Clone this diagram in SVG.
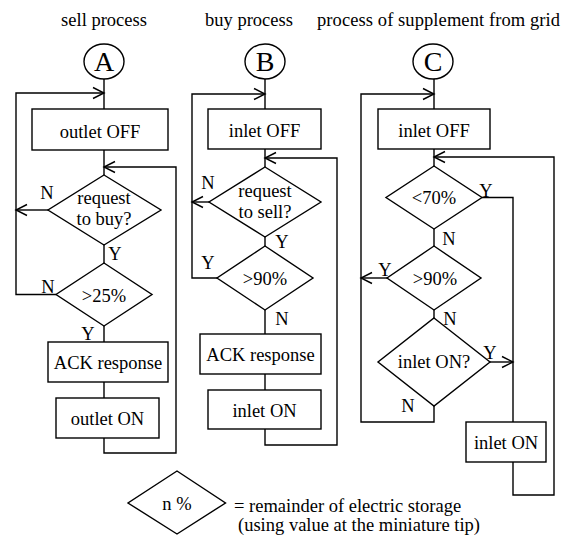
<svg xmlns="http://www.w3.org/2000/svg" width="565" height="536" viewBox="0 0 565 536">
<style>
.s{fill:#fff;stroke:#000;stroke-width:1.4}
.c{fill:none;stroke:#000;stroke-width:1.4}
text{font-family:"Liberation Serif","Times New Roman",serif;font-size:18.5px;fill:#000}
.m{text-anchor:middle}
.big{font-size:28px;text-anchor:middle}
</style>
<defs>
<marker id="ar" viewBox="-12 -7 14 14" refX="0" refY="0" markerWidth="14" markerHeight="14" markerUnits="userSpaceOnUse" orient="auto">
<path d="M-11,-5.5 L0,0 L-11,5.5" fill="none" stroke="#000" stroke-width="1.4"/>
</marker>
</defs>
<rect width="565" height="536" fill="#fff"/>

<g id="titles">
<text class="m" x="104" y="26">sell process</text>
<text class="m" x="249" y="26">buy process</text>
<text x="317" y="26" textLength="243">process of supplement from grid</text>
</g>

<g id="connectors">
<!-- column A -->
<path class="c" d="M104,79 V109 M104,150 V175 M104,245 V263 M104,326 V342 M104,382 V398"/>
<path class="c" d="M104,438 V453 H176 V167 H104" marker-end="url(#ar)"/>
<path class="c" d="M48,210 H16" marker-end="url(#ar)"/>
<path class="c" d="M56,294.5 H16 V93 H104" marker-end="url(#ar)"/>
<!-- column B -->
<path class="c" d="M265,79 V109 M265,149 V167 M265,237 V246 M265,310 V334 M265,374 V390"/>
<path class="c" d="M265,429 V445 H337 V158 H265" marker-end="url(#ar)"/>
<path class="c" d="M209,202 H192" marker-end="url(#ar)"/>
<path class="c" d="M217,278 H192 V94 H265" marker-end="url(#ar)"/>
<!-- column C -->
<path class="c" d="M434,79 V109 M434,149 V166 M434,229 V246 M434,310 V318"/>
<path class="c" d="M434,406 V422 H361 V94 H434" marker-end="url(#ar)"/>
<path class="c" d="M387,278 H361" marker-end="url(#ar)"/>
<path class="c" d="M482,197.5 H513 V422"/>
<path class="c" d="M490,362 H513" marker-end="url(#ar)"/>
<path class="c" d="M513,462 V495 H554 V157 H434" marker-end="url(#ar)"/>
</g>

<g id="labels">
<text class="m" x="47" y="199">N</text>
<text class="m" x="115" y="260">Y</text>
<text class="m" x="48" y="293">N</text>
<text class="m" x="88" y="340">Y</text>
<text class="m" x="208" y="189">N</text>
<text class="m" x="282" y="248">Y</text>
<text class="m" x="208" y="269">Y</text>
<text class="m" x="282" y="325">N</text>
<text class="m" x="486" y="197">Y</text>
<text class="m" x="449" y="245">N</text>
<text class="m" x="385" y="276">Y</text>
<text class="m" x="450" y="325">N</text>
<text class="m" x="490" y="359">Y</text>
<text class="m" x="408" y="412">N</text>
</g>

<g id="startA"><ellipse class="s" cx="104" cy="61.5" rx="20" ry="17.5"/><text class="big" x="104" y="70.5">A</text></g>
<g id="outletOffA"><rect class="s" x="32" y="109" width="136" height="41"/><text class="m" x="100" y="138">outlet OFF</text></g>
<g id="reqBuy"><polygon class="s" points="104,175 161,210 104,245 48,210"/><text class="m" x="104" y="204">request</text><text class="m" x="104" y="225">to buy?</text></g>
<g id="gt25"><polygon class="s" points="104,263 152,294.5 104,326 56,294.5"/><text class="m" x="104" y="302">&gt;25%</text></g>
<g id="ackA"><rect class="s" x="48" y="342" width="120" height="40"/><text class="m" x="108" y="369">ACK response</text></g>
<g id="outletOnA"><rect class="s" x="56" y="398" width="103" height="40"/><text class="m" x="107.5" y="425">outlet ON</text></g>

<g id="startB"><ellipse class="s" cx="265" cy="61.5" rx="20" ry="17.5"/><text class="big" x="265" y="70.5">B</text></g>
<g id="inletOffB"><rect class="s" x="208" y="109" width="113" height="40"/><text class="m" x="264.5" y="137">inlet OFF</text></g>
<g id="reqSell"><polygon class="s" points="265,167 321,202 265,237 209,202"/><text class="m" x="265" y="197">request</text><text class="m" x="265" y="218">to sell?</text></g>
<g id="gt90B"><polygon class="s" points="265,246 313,278 265,310 217,278"/><text class="m" x="265" y="285">&gt;90%</text></g>
<g id="ackB"><rect class="s" x="200" y="334" width="121" height="40"/><text class="m" x="260.5" y="361">ACK response</text></g>
<g id="inletOnB"><rect class="s" x="208" y="390" width="113" height="39"/><text class="m" x="264.5" y="417">inlet ON</text></g>

<g id="startC"><ellipse class="s" cx="433" cy="61.5" rx="20" ry="17.5"/><text class="big" x="433" y="70.5">C</text></g>
<g id="inletOffC"><rect class="s" x="378" y="109" width="112" height="40"/><text class="m" x="434" y="137">inlet OFF</text></g>
<g id="lt70"><polygon class="s" points="434,166 482,197.5 434,229 386,197.5"/><text class="m" x="434" y="204">&lt;70%</text></g>
<g id="gt90C"><polygon class="s" points="434,246 481,278 434,310 387,278"/><text class="m" x="435" y="285">&gt;90%</text></g>
<g id="inletOnQ"><polygon class="s" points="434,318 490,362 434,406 378,362"/><text class="m" x="434" y="368">inlet ON?</text></g>
<g id="inletOnC"><rect class="s" x="466" y="422" width="80" height="40"/><text class="m" x="506" y="449">inlet ON</text></g>

<g id="legend">
<polygon class="s" points="177,471 225.5,503 177,534 128,503"/>
<text class="m" x="177" y="510">n %</text>
<text x="234" y="512">= remainder of electric storage</text>
<text x="238" y="531">(using value at the miniature tip)</text>
</g>
</svg>
